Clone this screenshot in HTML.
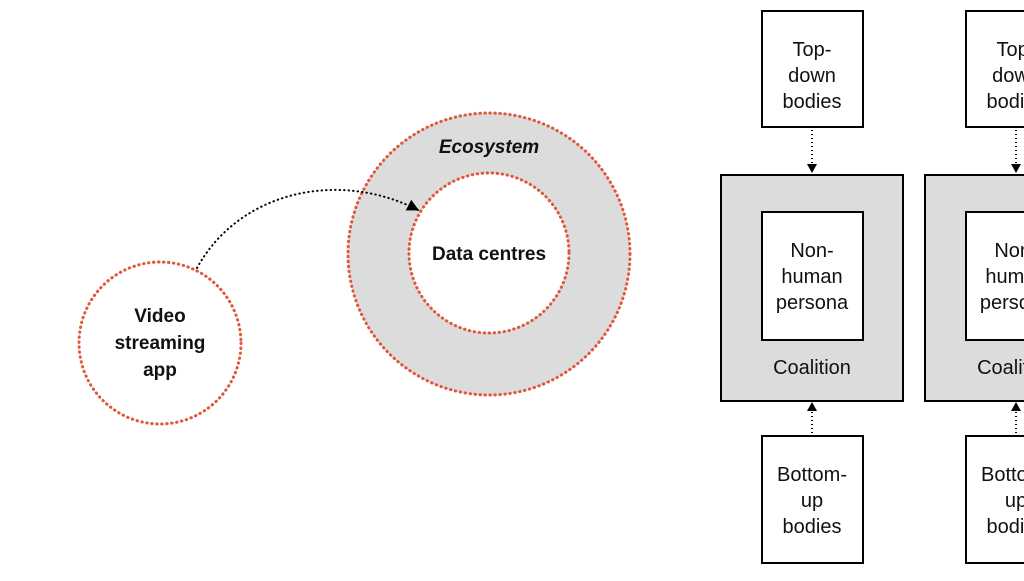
<!DOCTYPE html>
<html><head><style>
body{margin:0;width:1024px;height:576px;overflow:hidden;background:#fff}
svg text{font-family:"Liberation Sans",sans-serif;fill:#111}
</style></head><body>
<svg width="1024" height="576" viewBox="0 0 1024 576">
<defs><marker id="a" viewBox="0 0 10 10" refX="9" refY="5" markerWidth="6" markerHeight="6" orient="auto"><path d="M0,0L10,5L0,10z" fill="#000"/></marker></defs>
<circle cx="489" cy="254" r="141" fill="#dcdcdc" stroke="#e0583a" stroke-width="3" stroke-dasharray="0.5 4.5" stroke-linecap="round"/>
<circle cx="489" cy="253" r="80" fill="#fff" stroke="#e0583a" stroke-width="3" stroke-dasharray="0.5 4.5" stroke-linecap="round"/>
<circle cx="160" cy="343" r="81" fill="#fff" stroke="#e0583a" stroke-width="3" stroke-dasharray="0.5 4.5" stroke-linecap="round"/>
<path d="M197,268 C240,190 340,170 418,210" fill="none" stroke="#000" stroke-width="2" stroke-dasharray="0.5 4" stroke-linecap="round" marker-end="url(#a)"/>
<text x="489" y="153" text-anchor="middle" font-size="19" font-weight="bold" font-style="italic">Ecosystem</text>
<text x="489" y="260" text-anchor="middle" font-size="19" font-weight="bold">Data centres</text>
<g font-size="19" font-weight="bold" text-anchor="middle"><text x="160" y="322">Video</text><text x="160" y="349">streaming</text><text x="160" y="376">app</text></g>
<g id="col">
<rect x="762" y="11" width="101" height="116" fill="#fff" stroke="#000" stroke-width="2"/>
<rect x="721" y="175" width="182" height="226" fill="#dcdcdc" stroke="#000" stroke-width="2"/>
<rect x="762" y="212" width="101" height="128" fill="#fff" stroke="#000" stroke-width="2"/>
<rect x="762" y="436" width="101" height="127" fill="#fff" stroke="#000" stroke-width="2"/>
<line x1="812" y1="130" x2="812" y2="164" stroke="#000" stroke-width="2" stroke-dasharray="1 3"/>
<path d="M807,164L817,164L812,173z"/>
<line x1="812" y1="412" x2="812" y2="434" stroke="#000" stroke-width="2" stroke-dasharray="1 3"/>
<path d="M807,411L817,411L812,402z"/>
<g font-size="20" text-anchor="middle">
<text x="812" y="56">Top-</text><text x="812" y="82">down</text><text x="812" y="108">bodies</text>
<text x="812" y="257">Non-</text><text x="812" y="283">human</text><text x="812" y="309">persona</text>
<text x="812" y="374">Coalition</text>
<text x="812" y="481">Bottom-</text><text x="812" y="507">up</text><text x="812" y="533">bodies</text>
</g></g>
<use href="#col" x="204"/>
</svg>
</body></html>
